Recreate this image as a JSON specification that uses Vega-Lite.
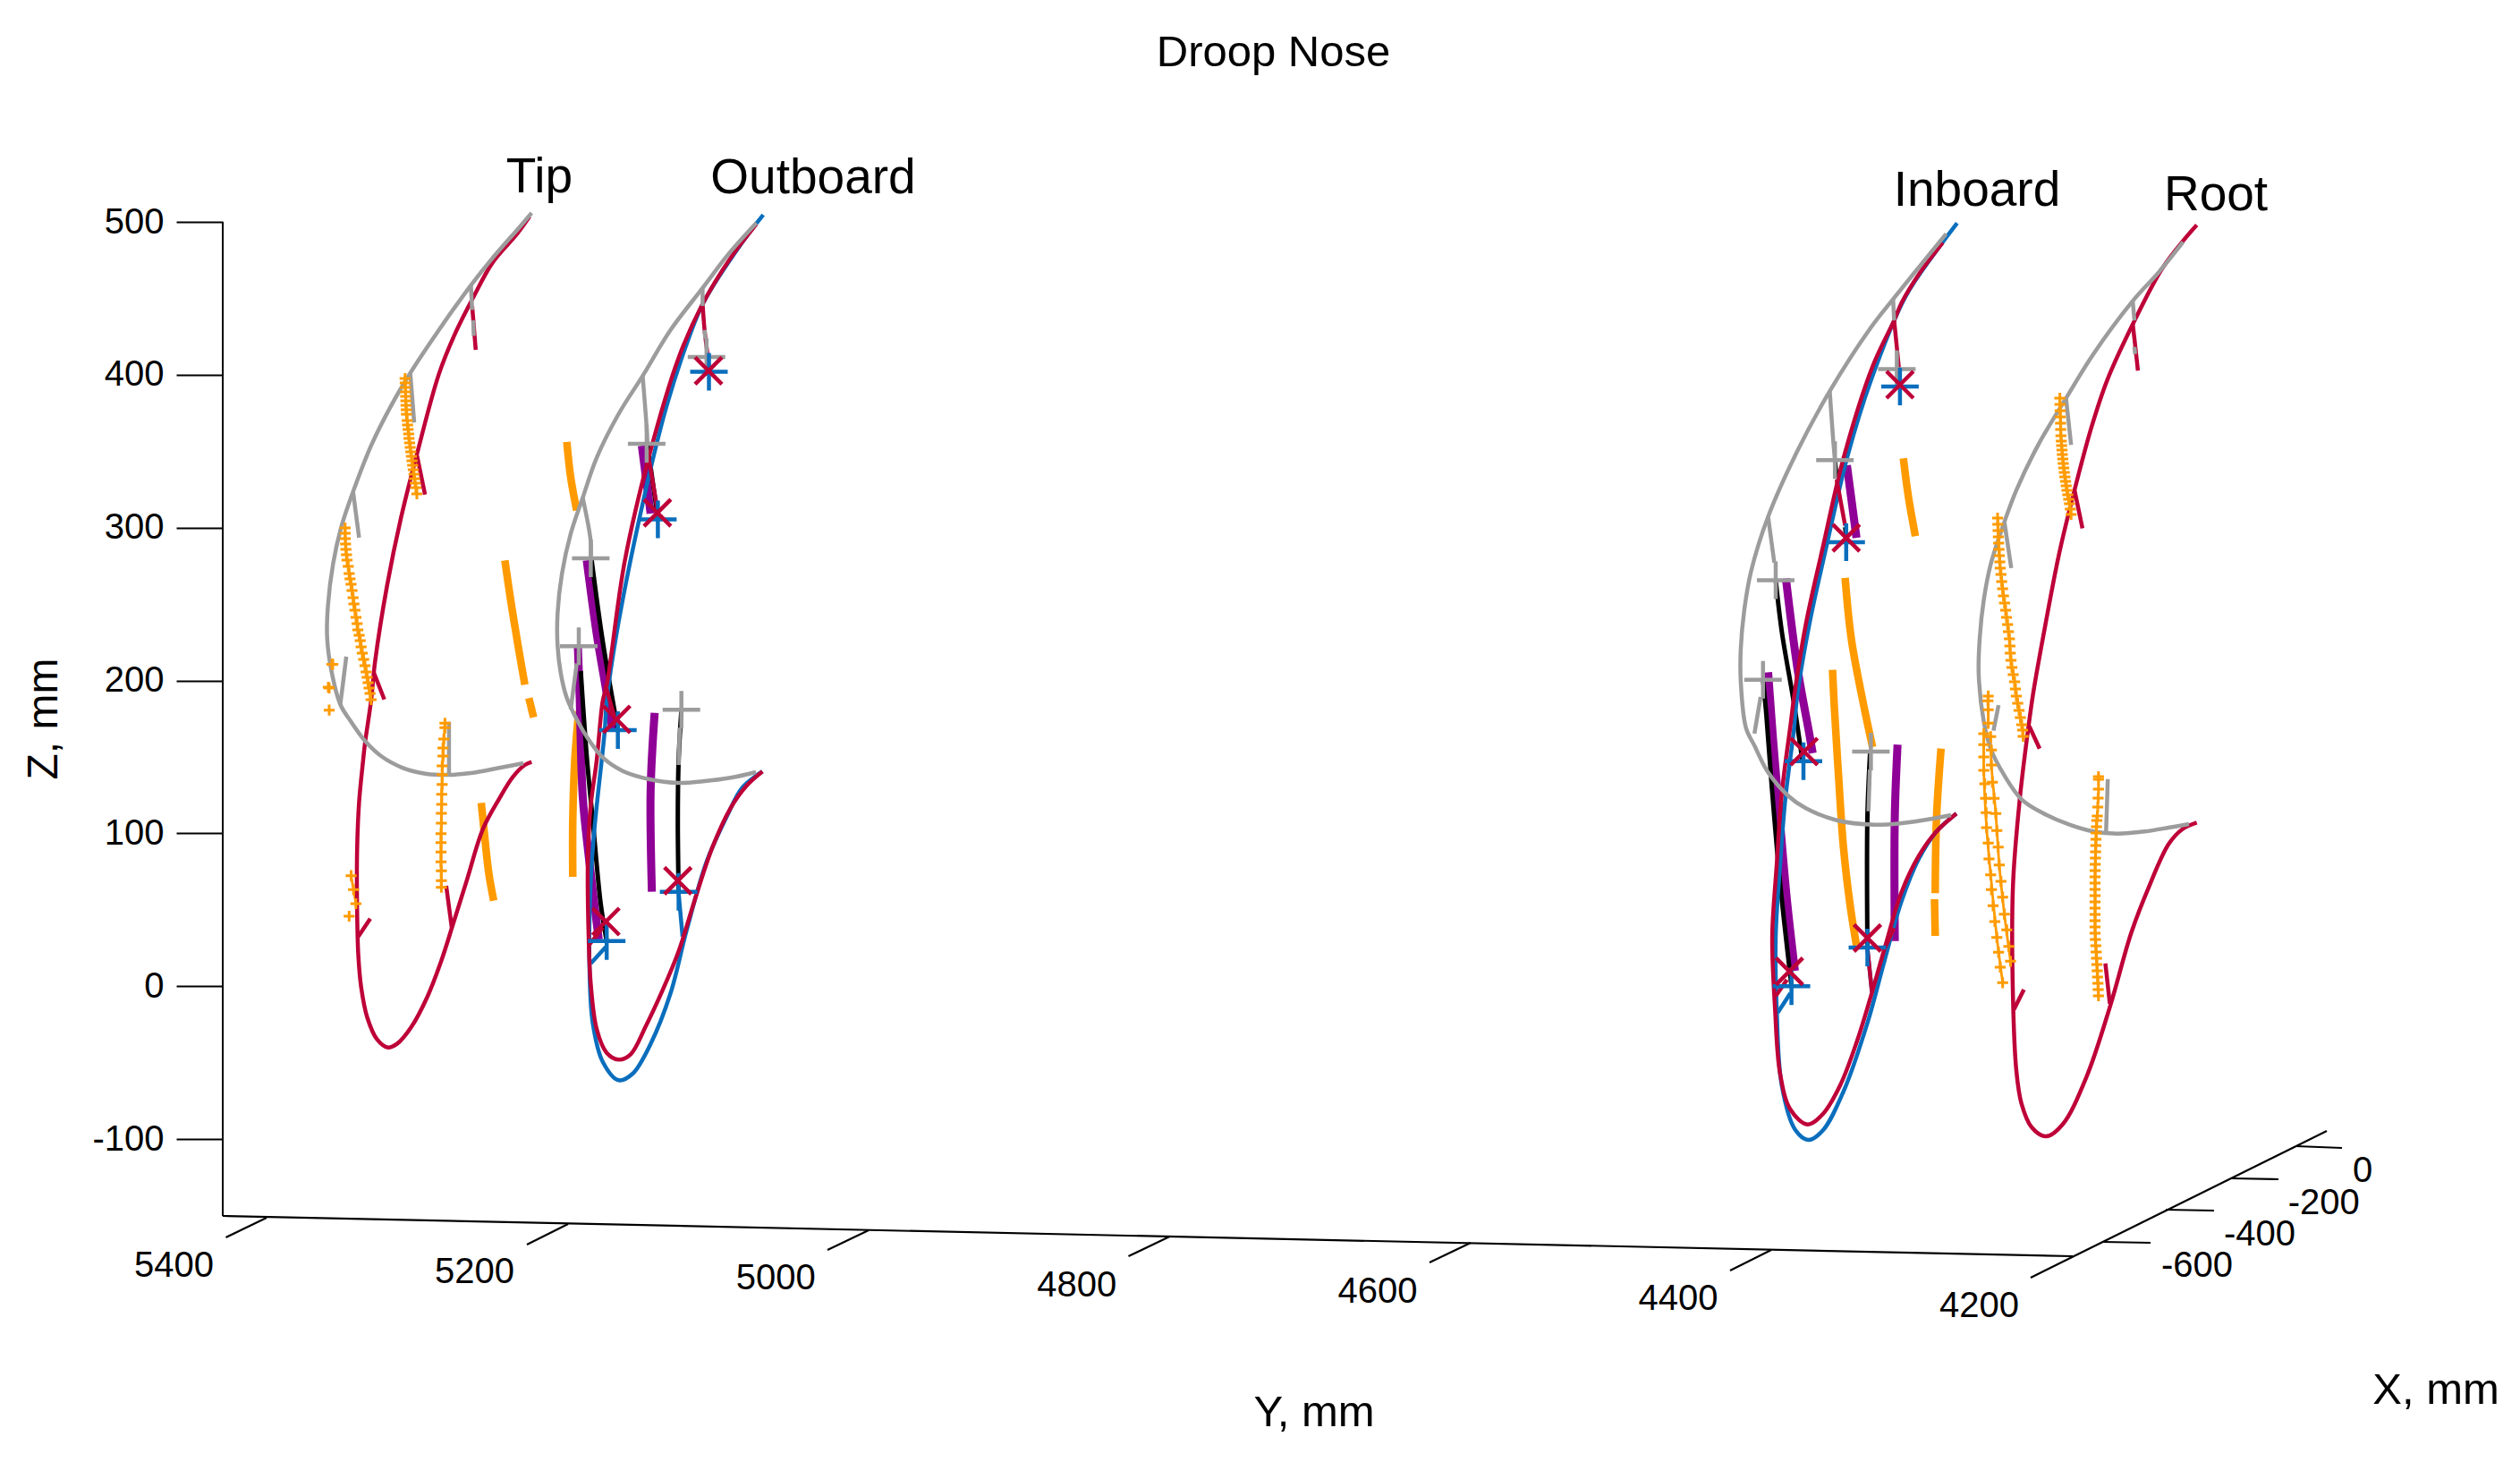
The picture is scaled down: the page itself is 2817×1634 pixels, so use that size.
{"$schema":"https://vega.github.io/schema/vega-lite/v6.json","width":2817,"height":1634,"padding":0,"autosize":"none","background":"white","view":{"stroke":null},
"title":{"text":"Droop Nose","font":"Liberation Sans","fontSize":49,"fontWeight":"normal","color":"black","anchor":"middle","baseline":"alphabetic","offset":0,"dx":15,"dy":122.5},
"datasets":{
"zaxis":[{"h":249,"z":500},{"h":249,"z":-150.3}],
"labels":[
{"kind":"name","label":"Tip","h":603,"v":215},{"kind":"name","label":"Outboard","h":909,"v":215.5},{"kind":"name","label":"Inboard","h":2210,"v":229.5},{"kind":"name","label":"Root","h":2477,"v":235},
{"kind":"title","label":"Y, mm","h":1469,"v":1594},{"kind":"title","label":"X, mm","h":2723,"v":1569},
{"kind":"tick","label":"5400","h":194.5,"v":1426.7},{"kind":"tick","label":"5200","h":530.6,"v":1434},{"kind":"tick","label":"5000","h":867.3,"v":1441},{"kind":"tick","label":"4800","h":1203.7,"v":1448.6},{"kind":"tick","label":"4600","h":1540,"v":1456},{"kind":"tick","label":"4400","h":1876,"v":1464},{"kind":"tick","label":"4200","h":2212.5,"v":1471.7},
{"kind":"tick","label":"0","h":2641,"v":1321},{"kind":"tick","label":"-200","h":2597.7,"v":1356.7},{"kind":"tick","label":"-400","h":2526,"v":1392},{"kind":"tick","label":"-600","h":2456,"v":1426.7}],
"markers":[
{"marker":"grey","h":789.8,"v":399.1},{"marker":"grey","h":722.9,"v":496},{"marker":"grey","h":660.4,"v":624.1},{"marker":"grey","h":647,"v":722.3},{"marker":"grey","h":761.7,"v":793.3},
{"marker":"grey","h":2120.4,"v":412.6},{"marker":"grey","h":2051.2,"v":514.2},{"marker":"grey","h":1985,"v":648.6},{"marker":"grey","h":1970.8,"v":759.7},{"marker":"grey","h":2091.4,"v":840},
{"marker":"blue","h":792.5,"v":415.6},{"marker":"blue","h":735.4,"v":580.4},{"marker":"blue","h":690.7,"v":816},{"marker":"blue","h":678.2,"v":1051.7},{"marker":"blue","h":758.6,"v":996.7},
{"marker":"blue","h":2123.9,"v":432},{"marker":"blue","h":2063.8,"v":605.9},{"marker":"blue","h":2016,"v":850.7},{"marker":"blue","h":2002.6,"v":1102.3},{"marker":"blue","h":2087.5,"v":1059},
{"marker":"crimson","h":792,"v":414.3},{"marker":"crimson","h":734.9,"v":573.2},{"marker":"crimson","h":689.4,"v":804},{"marker":"crimson","h":677.3,"v":1030},{"marker":"crimson","h":757.7,"v":984.3},
{"marker":"crimson","h":2123.9,"v":430},{"marker":"crimson","h":2063.8,"v":601.2},{"marker":"crimson","h":2016.7,"v":840},{"marker":"crimson","h":2000.3,"v":1085.7},{"marker":"crimson","h":2087.5,"v":1048.3},
{"marker":"orange","h":371,"v":742.4},{"marker":"orange","h":372,"v":742.4},{"marker":"orange","h":367,"v":768},{"marker":"orange","h":368,"v":769},{"marker":"orange","h":368,"v":793.7},
{"marker":"orange","h":497.4,"v":808.3},{"marker":"orange","h":497.4,"v":813.3},{"marker":"orange","h":496.1,"v":826},{"marker":"orange","h":495.2,"v":836},{"marker":"orange","h":495.2,"v":845},{"marker":"orange","h":494.3,"v":856},{"marker":"orange","h":494.3,"v":865.7},{"marker":"orange","h":494.3,"v":876.7},{"marker":"orange","h":493.8,"v":887.7},{"marker":"orange","h":493.8,"v":899},{"marker":"orange","h":493.4,"v":909},{"marker":"orange","h":493.4,"v":920},{"marker":"orange","h":493,"v":931.7},{"marker":"orange","h":493,"v":941.7},{"marker":"orange","h":493,"v":952.3},{"marker":"orange","h":493,"v":963.3},{"marker":"orange","h":493.4,"v":973.3},{"marker":"orange","h":493.4,"v":984.3},{"marker":"orange","h":493.4,"v":991.7},
{"marker":"orange","h":392.5,"v":978.7},{"marker":"orange","h":395.2,"v":994.3},{"marker":"orange","h":397.9,"v":1010},{"marker":"orange","h":390.3,"v":1024},
{"marker":"orange","h":452.8,"v":423},{"marker":"orange","h":453,"v":428},{"marker":"orange","h":453.2,"v":433},{"marker":"orange","h":453.3,"v":438},{"marker":"orange","h":453.5,"v":443},{"marker":"orange","h":453.7,"v":448},{"marker":"orange","h":453.9,"v":453},{"marker":"orange","h":454.1,"v":458},{"marker":"orange","h":454.4,"v":463},{"marker":"orange","h":455.2,"v":470},{"marker":"orange","h":455.6,"v":475},{"marker":"orange","h":456.2,"v":480},{"marker":"orange","h":456.8,"v":485},{"marker":"orange","h":457.2,"v":490},{"marker":"orange","h":457.9,"v":495},{"marker":"orange","h":458.6,"v":500},{"marker":"orange","h":459.2,"v":505},{"marker":"orange","h":459.9,"v":510},{"marker":"orange","h":460.6,"v":515},{"marker":"orange","h":461.3,"v":520},{"marker":"orange","h":462,"v":525},{"marker":"orange","h":462.8,"v":530},{"marker":"orange","h":463.4,"v":535},{"marker":"orange","h":464.1,"v":540},{"marker":"orange","h":464.9,"v":545},{"marker":"orange","h":466,"v":552},
{"marker":"orange","h":385.8,"v":590},{"marker":"orange","h":385.8,"v":596},{"marker":"orange","h":386,"v":602},{"marker":"orange","h":386.3,"v":608},{"marker":"orange","h":386.7,"v":614},{"marker":"orange","h":387.3,"v":620},{"marker":"orange","h":388,"v":626},{"marker":"orange","h":389.3,"v":633},{"marker":"orange","h":390.3,"v":641},{"marker":"orange","h":391.3,"v":647},{"marker":"orange","h":392.4,"v":653},{"marker":"orange","h":393.5,"v":660},{"marker":"orange","h":394.7,"v":668},{"marker":"orange","h":395.6,"v":675},{"marker":"orange","h":396.8,"v":682},{"marker":"orange","h":398,"v":690},{"marker":"orange","h":399.2,"v":697},{"marker":"orange","h":400,"v":704},{"marker":"orange","h":401.5,"v":710},{"marker":"orange","h":402.7,"v":716},{"marker":"orange","h":403.7,"v":723},{"marker":"orange","h":405,"v":730},{"marker":"orange","h":406.5,"v":737},{"marker":"orange","h":408,"v":744},{"marker":"orange","h":409.3,"v":751},{"marker":"orange","h":410.4,"v":757},{"marker":"orange","h":411.5,"v":763},{"marker":"orange","h":412.6,"v":769},{"marker":"orange","h":413.7,"v":775},{"marker":"orange","h":414.8,"v":782},
{"marker":"orange","h":2302.6,"v":445},{"marker":"orange","h":2302.8,"v":452},{"marker":"orange","h":2303,"v":459},{"marker":"orange","h":2303.2,"v":466},{"marker":"orange","h":2303.4,"v":473},{"marker":"orange","h":2303.6,"v":480},{"marker":"orange","h":2303.8,"v":487},{"marker":"orange","h":2304.2,"v":493},{"marker":"orange","h":2304.6,"v":498},{"marker":"orange","h":2305,"v":503},{"marker":"orange","h":2305.4,"v":508},{"marker":"orange","h":2305.9,"v":513},{"marker":"orange","h":2306.4,"v":518},{"marker":"orange","h":2307,"v":523},{"marker":"orange","h":2307.6,"v":528},{"marker":"orange","h":2308.3,"v":533},{"marker":"orange","h":2309,"v":538},{"marker":"orange","h":2309.8,"v":543},{"marker":"orange","h":2310.6,"v":548},{"marker":"orange","h":2311.5,"v":553},{"marker":"orange","h":2312.5,"v":558},{"marker":"orange","h":2313.4,"v":563},{"marker":"orange","h":2314.3,"v":569},{"marker":"orange","h":2315.2,"v":575},
{"marker":"orange","h":2233,"v":579},{"marker":"orange","h":2233.3,"v":586},{"marker":"orange","h":2233.6,"v":593},{"marker":"orange","h":2233.9,"v":600},{"marker":"orange","h":2234.2,"v":607},{"marker":"orange","h":2234.6,"v":614},{"marker":"orange","h":2235,"v":621},{"marker":"orange","h":2235.5,"v":628},{"marker":"orange","h":2236,"v":635},{"marker":"orange","h":2236.8,"v":642},{"marker":"orange","h":2237.6,"v":650},{"marker":"orange","h":2238.6,"v":658},{"marker":"orange","h":2239.6,"v":666},{"marker":"orange","h":2240.8,"v":674},{"marker":"orange","h":2242,"v":682},{"marker":"orange","h":2243,"v":690},{"marker":"orange","h":2244.2,"v":698},{"marker":"orange","h":2245.2,"v":706},{"marker":"orange","h":2246.3,"v":714},{"marker":"orange","h":2246.8,"v":722},{"marker":"orange","h":2247.2,"v":730},{"marker":"orange","h":2248,"v":738},{"marker":"orange","h":2249,"v":746},{"marker":"orange","h":2250.5,"v":754},{"marker":"orange","h":2252,"v":762},{"marker":"orange","h":2253,"v":770},{"marker":"orange","h":2254,"v":778},{"marker":"orange","h":2255.5,"v":786},{"marker":"orange","h":2257,"v":794},{"marker":"orange","h":2258.5,"v":802},{"marker":"orange","h":2260,"v":810},{"marker":"orange","h":2261,"v":816},{"marker":"orange","h":2261.6,"v":823},
{"marker":"orange","h":2222.6,"v":777.9},{"marker":"orange","h":2222.2,"v":783.3},{"marker":"orange","h":2222.6,"v":793.3},{"marker":"orange","h":2222.6,"v":808.3},{"marker":"orange","h":2217.6,"v":820},{"marker":"orange","h":2217.6,"v":832.3},{"marker":"orange","h":2217.6,"v":846},{"marker":"orange","h":2217.6,"v":861},{"marker":"orange","h":2218.7,"v":876},{"marker":"orange","h":2219.6,"v":892.3},{"marker":"orange","h":2220.3,"v":908.3},{"marker":"orange","h":2220.7,"v":925},{"marker":"orange","h":2222.6,"v":942.3},{"marker":"orange","h":2223.4,"v":960},{"marker":"orange","h":2225.3,"v":977.7},{"marker":"orange","h":2226.1,"v":994.3},{"marker":"orange","h":2228,"v":1012.3},{"marker":"orange","h":2229.9,"v":1030},{"marker":"orange","h":2232.2,"v":1047.7},{"marker":"orange","h":2234.1,"v":1064.3},{"marker":"orange","h":2236,"v":1081},{"marker":"orange","h":2238.7,"v":1098.3},
{"marker":"orange","h":2225.3,"v":823.3},{"marker":"orange","h":2226.1,"v":838.3},{"marker":"orange","h":2226.1,"v":855},{"marker":"orange","h":2227.2,"v":874.3},{"marker":"orange","h":2229.1,"v":892.3},{"marker":"orange","h":2231,"v":909.3},{"marker":"orange","h":2232.2,"v":928.3},{"marker":"orange","h":2233.7,"v":946.7},{"marker":"orange","h":2234.9,"v":966.7},{"marker":"orange","h":2236.8,"v":985},{"marker":"orange","h":2238.7,"v":1002.7},{"marker":"orange","h":2240.6,"v":1021.7},{"marker":"orange","h":2243.3,"v":1039.3},{"marker":"orange","h":2245.6,"v":1057.7},{"marker":"orange","h":2247.5,"v":1074.3},
{"marker":"orange","h":2345.8,"v":868},{"marker":"orange","h":2345.8,"v":871},{"marker":"orange","h":2345.8,"v":882},{"marker":"orange","h":2345.4,"v":892},{"marker":"orange","h":2345,"v":902},{"marker":"orange","h":2344.5,"v":912},{"marker":"orange","h":2343.9,"v":917},{"marker":"orange","h":2343.6,"v":924},{"marker":"orange","h":2343.3,"v":931},{"marker":"orange","h":2343,"v":938},{"marker":"orange","h":2342.8,"v":945},{"marker":"orange","h":2342.6,"v":952},{"marker":"orange","h":2342.4,"v":959},{"marker":"orange","h":2342.2,"v":966},{"marker":"orange","h":2342.1,"v":973},{"marker":"orange","h":2342,"v":980},{"marker":"orange","h":2342,"v":987},{"marker":"orange","h":2342,"v":994},{"marker":"orange","h":2342,"v":1001},{"marker":"orange","h":2342,"v":1008},{"marker":"orange","h":2342,"v":1015},{"marker":"orange","h":2342,"v":1022},{"marker":"orange","h":2342,"v":1029},{"marker":"orange","h":2342,"v":1036},{"marker":"orange","h":2342,"v":1043},{"marker":"orange","h":2342.4,"v":1050},{"marker":"orange","h":2342.8,"v":1057},{"marker":"orange","h":2343.2,"v":1064},{"marker":"orange","h":2343.6,"v":1071},{"marker":"orange","h":2344,"v":1078},{"marker":"orange","h":2344.4,"v":1085},{"marker":"orange","h":2344.8,"v":1092},{"marker":"orange","h":2345.2,"v":1099},{"marker":"orange","h":2345.5,"v":1106},{"marker":"orange","h":2345.8,"v":1113}],
"lines":[
{"path":"t1","kind":"thin","h":497.4,"v":808.3},{"path":"t1","kind":"thin","h":494.3,"v":865.7},{"path":"t1","kind":"thin","h":493.4,"v":920},{"path":"t1","kind":"thin","h":493,"v":963.3},{"path":"t1","kind":"thin","h":493.4,"v":991.7},
{"path":"t2","kind":"thin","h":392.5,"v":978.7},{"path":"t2","kind":"thin","h":395.2,"v":994.3},{"path":"t2","kind":"thin","h":397.9,"v":1010},
{"path":"t3","kind":"thin","h":2217.6,"v":820},{"path":"t3","kind":"thin","h":2217.6,"v":861},{"path":"t3","kind":"thin","h":2220.7,"v":925},{"path":"t3","kind":"thin","h":2225.3,"v":977.7},{"path":"t3","kind":"thin","h":2232.2,"v":1047.7},{"path":"t3","kind":"thin","h":2238.7,"v":1098.3},
{"path":"t4","kind":"thin","h":2225.3,"v":823.3},{"path":"t4","kind":"thin","h":2226.1,"v":855},{"path":"t4","kind":"thin","h":2231,"v":909.3},{"path":"t4","kind":"thin","h":2234.9,"v":966.7},{"path":"t4","kind":"thin","h":2240.6,"v":1021.7},{"path":"t4","kind":"thin","h":2247.5,"v":1074.3},
{"path":"t5","kind":"thin","h":2222.6,"v":777.9},{"path":"t5","kind":"thin","h":2222.6,"v":808.3},
{"path":"o1","kind":"orange","h":564.4,"v":626.3},{"path":"o1","kind":"orange","h":571.1,"v":672.3},{"path":"o1","kind":"orange","h":579.1,"v":721.4},{"path":"o1","kind":"orange","h":586.7,"v":765.2},
{"path":"o2","kind":"orange","h":591.2,"v":780.3},{"path":"o2","kind":"orange","h":596.5,"v":801.8},
{"path":"o3","kind":"orange","h":633.6,"v":493.8},{"path":"o3","kind":"orange","h":638,"v":533.9},{"path":"o3","kind":"orange","h":644.7,"v":570.5},
{"path":"o4","kind":"orange","h":538,"v":897.3},{"path":"o4","kind":"orange","h":542,"v":936.7},{"path":"o4","kind":"orange","h":546.5,"v":976.7},{"path":"o4","kind":"orange","h":551.9,"v":1006.7},
{"path":"o5","kind":"orange","h":647,"v":795},{"path":"o5","kind":"orange","h":642.5,"v":850},{"path":"o5","kind":"orange","h":640.3,"v":916.7},{"path":"o5","kind":"orange","h":640.3,"v":980},
{"path":"o6","kind":"orange","h":2127.7,"v":512.3},{"path":"o6","kind":"orange","h":2133.4,"v":555.7},{"path":"o6","kind":"orange","h":2141.1,"v":599.2},
{"path":"o7","kind":"orange","h":2062.6,"v":645.8},{"path":"o7","kind":"orange","h":2069.5,"v":713.8},{"path":"o7","kind":"orange","h":2083.7,"v":790},{"path":"o7","kind":"orange","h":2093.3,"v":835},
{"path":"o8","kind":"orange","h":2048.5,"v":748.6},{"path":"o8","kind":"orange","h":2050.5,"v":790},{"path":"o8","kind":"orange","h":2055,"v":863.3},{"path":"o8","kind":"orange","h":2060.7,"v":946.7},{"path":"o8","kind":"orange","h":2068.4,"v":1013.3},{"path":"o8","kind":"orange","h":2075.3,"v":1056.7},
{"path":"o9","kind":"orange","h":2169.8,"v":836.7},{"path":"o9","kind":"orange","h":2164.8,"v":913.3},{"path":"o9","kind":"orange","h":2163.3,"v":998.3},
{"path":"o10","kind":"orange","h":2162.5,"v":1005},{"path":"o10","kind":"orange","h":2163.3,"v":1046},
{"path":"p1","kind":"purple","h":717.5,"v":498.2},{"path":"p1","kind":"purple","h":727.3,"v":574},
{"path":"p2","kind":"purple","h":655.9,"v":626.3},{"path":"p2","kind":"purple","h":667,"v":708},{"path":"p2","kind":"purple","h":678.2,"v":775},{"path":"p2","kind":"purple","h":684.9,"v":817.4},
{"path":"p3","kind":"purple","h":646,"v":723.7},{"path":"p3","kind":"purple","h":647.9,"v":775},{"path":"p3","kind":"purple","h":651.4,"v":890},{"path":"p3","kind":"purple","h":658.1,"v":956.7},{"path":"p3","kind":"purple","h":669.3,"v":1050},
{"path":"p4","kind":"purple","h":731.8,"v":796.7},{"path":"p4","kind":"purple","h":727.3,"v":883.3},{"path":"p4","kind":"purple","h":728.7,"v":996.7},
{"path":"p5","kind":"purple","h":2064.6,"v":520.2},{"path":"p5","kind":"purple","h":2075.3,"v":601.2},
{"path":"p6","kind":"purple","h":1996.4,"v":646.6},{"path":"p6","kind":"purple","h":2009.1,"v":745.5},{"path":"p6","kind":"purple","h":2022.5,"v":820},{"path":"p6","kind":"purple","h":2026.3,"v":841.7},
{"path":"p7","kind":"purple","h":1976.5,"v":751.4},{"path":"p7","kind":"purple","h":1982.3,"v":830},{"path":"p7","kind":"purple","h":1989.9,"v":920},{"path":"p7","kind":"purple","h":1997.6,"v":1006.7},{"path":"p7","kind":"purple","h":2006.4,"v":1085},
{"path":"p8","kind":"purple","h":2121.2,"v":832.3},{"path":"p8","kind":"purple","h":2118.1,"v":913.3},{"path":"p8","kind":"purple","h":2118.1,"v":1051.7},
{"path":"b1","kind":"black","h":791.2,"v":399.1},{"path":"b1","kind":"black","h":792.5,"v":417.9},
{"path":"b2","kind":"black","h":723.8,"v":496},{"path":"b2","kind":"black","h":729.6,"v":538.4},{"path":"b2","kind":"black","h":735.4,"v":578.6},
{"path":"b3","kind":"black","h":661.3,"v":625.4},{"path":"b3","kind":"black","h":673.8,"v":717},{"path":"b3","kind":"black","h":690.7,"v":815.2},
{"path":"b4","kind":"black","h":649.2,"v":750},{"path":"b4","kind":"black","h":656,"v":846.7},{"path":"b4","kind":"black","h":662.6,"v":916.7},{"path":"b4","kind":"black","h":671.5,"v":1010},{"path":"b4","kind":"black","h":678.2,"v":1051.7},
{"path":"b5","kind":"black","h":761.7,"v":794},{"path":"b5","kind":"black","h":758.6,"v":850},{"path":"b5","kind":"black","h":757.7,"v":916.7},{"path":"b5","kind":"black","h":758.6,"v":996.7},
{"path":"b6","kind":"black","h":2122.7,"v":413.4},{"path":"b6","kind":"black","h":2123.9,"v":432},
{"path":"b7","kind":"black","h":2051.2,"v":514.2},{"path":"b7","kind":"black","h":2053.1,"v":534},
{"path":"b8","kind":"black","h":2062.6,"v":589.3},{"path":"b8","kind":"black","h":2064.6,"v":605.1},
{"path":"b9","kind":"black","h":1985,"v":648.6},{"path":"b9","kind":"black","h":1991.8,"v":706},{"path":"b9","kind":"black","h":2005.2,"v":785},{"path":"b9","kind":"black","h":2014.8,"v":850},
{"path":"b10","kind":"black","h":1970.8,"v":759.7},{"path":"b10","kind":"black","h":1974.6,"v":800},{"path":"b10","kind":"black","h":1980.4,"v":876.7},{"path":"b10","kind":"black","h":1989.9,"v":986.7},{"path":"b10","kind":"black","h":2002.6,"v":1101.7},
{"path":"b11","kind":"black","h":2090.6,"v":840},{"path":"b11","kind":"black","h":2087.5,"v":913.3},{"path":"b11","kind":"black","h":2087.5,"v":1058.3},
{"path":"blOut","kind":"blue","h":853.2,"v":240.2},{"path":"blOut","kind":"blue","h":830,"v":270.5},{"path":"blOut","kind":"blue","h":786.5,"v":338},{"path":"blOut","kind":"blue","h":770,"v":377.7},{"path":"blOut","kind":"blue","h":745.2,"v":453.6},{"path":"blOut","kind":"blue","h":722.9,"v":542.9},{"path":"blOut","kind":"blue","h":691.6,"v":694.6},{"path":"blOut","kind":"blue","h":678.2,"v":783.9},{"path":"blOut","kind":"blue","h":676,"v":816.7},{"path":"blOut","kind":"blue","h":664.8,"v":923.3},{"path":"blOut","kind":"blue","h":660.4,"v":983.3},{"path":"blOut","kind":"blue","h":659,"v":1083.3},{"path":"blOut","kind":"blue","h":662.6,"v":1143.3},{"path":"blOut","kind":"blue","h":673.8,"v":1186.7},{"path":"blOut","kind":"blue","h":691.6,"v":1207.3},{"path":"blOut","kind":"blue","h":707.2,"v":1200},{"path":"blOut","kind":"blue","h":727.3,"v":1166.7},{"path":"blOut","kind":"blue","h":749.6,"v":1110},{"path":"blOut","kind":"blue","h":767.5,"v":1040},{"path":"blOut","kind":"blue","h":789.8,"v":963.3},{"path":"blOut","kind":"blue","h":812.1,"v":913.3},{"path":"blOut","kind":"blue","h":830,"v":880},{"path":"blOut","kind":"blue","h":852.3,"v":862.3},
{"path":"blO1","kind":"blue","h":660.4,"v":1076.7},{"path":"blO1","kind":"blue","h":677.3,"v":1058.3},
{"path":"blO2","kind":"blue","h":758.6,"v":998.3},{"path":"blO2","kind":"blue","h":763,"v":1046.7},
{"path":"blIn","kind":"blue","h":2187.8,"v":249.4},{"path":"blIn","kind":"blue","h":2164.1,"v":281},{"path":"blIn","kind":"blue","h":2129.6,"v":332.4},{"path":"blIn","kind":"blue","h":2091.4,"v":425.3},{"path":"blIn","kind":"blue","h":2064.6,"v":512.3},{"path":"blIn","kind":"blue","h":2041.6,"v":611.1},{"path":"blIn","kind":"blue","h":2022.5,"v":698},{"path":"blIn","kind":"blue","h":2009.1,"v":777.1},{"path":"blIn","kind":"blue","h":2005.2,"v":816.7},{"path":"blIn","kind":"blue","h":1995.7,"v":893.3},{"path":"blIn","kind":"blue","h":1989.9,"v":966.7},{"path":"blIn","kind":"blue","h":1985,"v":1046.7},{"path":"blIn","kind":"blue","h":1986.1,"v":1126.7},{"path":"blIn","kind":"blue","h":1991.8,"v":1213.3},{"path":"blIn","kind":"blue","h":2007.2,"v":1263.3},{"path":"blIn","kind":"blue","h":2021.7,"v":1274},{"path":"blIn","kind":"blue","h":2037.8,"v":1263.3},{"path":"blIn","kind":"blue","h":2060.7,"v":1220},{"path":"blIn","kind":"blue","h":2087.5,"v":1143.3},{"path":"blIn","kind":"blue","h":2106.7,"v":1073.3},{"path":"blIn","kind":"blue","h":2125.8,"v":1006.7},{"path":"blIn","kind":"blue","h":2144.9,"v":960},{"path":"blIn","kind":"blue","h":2164.1,"v":930},{"path":"blIn","kind":"blue","h":2187,"v":909.3},
{"path":"blI1","kind":"blue","h":1987.3,"v":1131.7},{"path":"blI1","kind":"blue","h":2001.4,"v":1110},
{"path":"blI2","kind":"blue","h":2087.5,"v":1060},{"path":"blI2","kind":"blue","h":2092.5,"v":1108.3},
{"path":"cTip","kind":"crimson","h":592,"v":242},{"path":"cTip","kind":"crimson","h":577.8,"v":261.6},{"path":"cTip","kind":"crimson","h":551,"v":292.9},{"path":"cTip","kind":"crimson","h":528.7,"v":333},{"path":"cTip","kind":"crimson","h":508.6,"v":373.2},{"path":"cTip","kind":"crimson","h":490.7,"v":417.9},{"path":"cTip","kind":"crimson","h":466.2,"v":507.1},{"path":"cTip","kind":"crimson","h":448.3,"v":578.6},{"path":"cTip","kind":"crimson","h":432.7,"v":654.5},{"path":"cTip","kind":"crimson","h":419.3,"v":739.3},{"path":"cTip","kind":"crimson","h":414.8,"v":783.3},{"path":"cTip","kind":"crimson","h":408.1,"v":830},{"path":"cTip","kind":"crimson","h":405.9,"v":850},{"path":"cTip","kind":"crimson","h":401.4,"v":896.7},{"path":"cTip","kind":"crimson","h":399.2,"v":950},{"path":"cTip","kind":"crimson","h":399.2,"v":1016.7},{"path":"cTip","kind":"crimson","h":400.5,"v":1066.7},{"path":"cTip","kind":"crimson","h":403.7,"v":1103.3},{"path":"cTip","kind":"crimson","h":410.4,"v":1136.7},{"path":"cTip","kind":"crimson","h":421.5,"v":1161.7},{"path":"cTip","kind":"crimson","h":433.6,"v":1170.7},{"path":"cTip","kind":"crimson","h":443.8,"v":1166.7},{"path":"cTip","kind":"crimson","h":459.5,"v":1148.3},{"path":"cTip","kind":"crimson","h":477.3,"v":1115},{"path":"cTip","kind":"crimson","h":492.9,"v":1075},{"path":"cTip","kind":"crimson","h":506.3,"v":1033.3},{"path":"cTip","kind":"crimson","h":522,"v":983.3},{"path":"cTip","kind":"crimson","h":539.8,"v":926.7},{"path":"cTip","kind":"crimson","h":557.7,"v":893.3},{"path":"cTip","kind":"crimson","h":573.3,"v":868.3},{"path":"cTip","kind":"crimson","h":586.7,"v":855},{"path":"cTip","kind":"crimson","h":594.3,"v":851.7},
{"path":"cT1","kind":"crimson","h":527.8,"v":342},{"path":"cT1","kind":"crimson","h":531.8,"v":391},
{"path":"cT2","kind":"crimson","h":466.2,"v":509.4},{"path":"cT2","kind":"crimson","h":475.1,"v":552.7},
{"path":"cT3","kind":"crimson","h":417.9,"v":751.8},{"path":"cT3","kind":"crimson","h":429.6,"v":781.7},
{"path":"cT4","kind":"crimson","h":505,"v":1036.7},{"path":"cT4","kind":"crimson","h":498.8,"v":990},
{"path":"cT5","kind":"crimson","h":400.5,"v":1046.7},{"path":"cT5","kind":"crimson","h":413.9,"v":1026.7},
{"path":"cOut","kind":"crimson","h":845.6,"v":250.4},{"path":"cOut","kind":"crimson","h":816.6,"v":288.4},{"path":"cOut","kind":"crimson","h":785.4,"v":339.7},{"path":"cOut","kind":"crimson","h":758.6,"v":400},{"path":"cOut","kind":"crimson","h":725.1,"v":511.6},{"path":"cOut","kind":"crimson","h":698.3,"v":627.7},{"path":"cOut","kind":"crimson","h":678.2,"v":766},{"path":"cOut","kind":"crimson","h":673.8,"v":783.3},{"path":"cOut","kind":"crimson","h":667,"v":850},{"path":"cOut","kind":"crimson","h":660.4,"v":900},{"path":"cOut","kind":"crimson","h":657.2,"v":956.7},{"path":"cOut","kind":"crimson","h":658.1,"v":1050},{"path":"cOut","kind":"crimson","h":660.4,"v":1100},{"path":"cOut","kind":"crimson","h":667,"v":1150},{"path":"cOut","kind":"crimson","h":678.2,"v":1176.7},{"path":"cOut","kind":"crimson","h":691.6,"v":1184.3},{"path":"cOut","kind":"crimson","h":705,"v":1178.3},{"path":"cOut","kind":"crimson","h":722,"v":1146.7},{"path":"cOut","kind":"crimson","h":740.7,"v":1106.7},{"path":"cOut","kind":"crimson","h":758.6,"v":1063.3},{"path":"cOut","kind":"crimson","h":776.4,"v":1006.7},{"path":"cOut","kind":"crimson","h":796.5,"v":946.7},{"path":"cOut","kind":"crimson","h":816.6,"v":903.3},{"path":"cOut","kind":"crimson","h":834.5,"v":878.3},{"path":"cOut","kind":"crimson","h":852.3,"v":862.3},
{"path":"cO1","kind":"crimson","h":785.4,"v":339.7},{"path":"cO1","kind":"crimson","h":787.6,"v":368.8},{"path":"cO1","kind":"crimson","h":791.2,"v":397.8},
{"path":"cO2","kind":"crimson","h":725.1,"v":511.6},{"path":"cO2","kind":"crimson","h":735,"v":570},
{"path":"cO3","kind":"crimson","h":676.9,"v":766},{"path":"cO3","kind":"crimson","h":689.4,"v":810.7},
{"path":"cO4","kind":"crimson","h":658.1,"v":1056.7},{"path":"cO4","kind":"crimson","h":673.8,"v":1036.7},
{"path":"cIn","kind":"crimson","h":2171.7,"v":271.1},{"path":"cIn","kind":"crimson","h":2144.9,"v":306.7},{"path":"cIn","kind":"crimson","h":2125.8,"v":338.3},{"path":"cIn","kind":"crimson","h":2117.4,"v":358.1},{"path":"cIn","kind":"crimson","h":2093.3,"v":409.5},{"path":"cIn","kind":"crimson","h":2060.7,"v":512.3},{"path":"cIn","kind":"crimson","h":2037.8,"v":611.1},{"path":"cIn","kind":"crimson","h":2018.6,"v":698},{"path":"cIn","kind":"crimson","h":2005.2,"v":781},{"path":"cIn","kind":"crimson","h":2002,"v":806.7},{"path":"cIn","kind":"crimson","h":1991.8,"v":886.7},{"path":"cIn","kind":"crimson","h":1986.1,"v":966.7},{"path":"cIn","kind":"crimson","h":1981.1,"v":1046.7},{"path":"cIn","kind":"crimson","h":1984.2,"v":1126.7},{"path":"cIn","kind":"crimson","h":1989.9,"v":1200},{"path":"cIn","kind":"crimson","h":2001.4,"v":1240},{"path":"cIn","kind":"crimson","h":2020.6,"v":1256.7},{"path":"cIn","kind":"crimson","h":2037.8,"v":1245},{"path":"cIn","kind":"crimson","h":2056.9,"v":1213.3},{"path":"cIn","kind":"crimson","h":2076,"v":1163.3},{"path":"cIn","kind":"crimson","h":2091.4,"v":1113.3},{"path":"cIn","kind":"crimson","h":2106.7,"v":1060},{"path":"cIn","kind":"crimson","h":2125.8,"v":996.7},{"path":"cIn","kind":"crimson","h":2144.9,"v":956.7},{"path":"cIn","kind":"crimson","h":2164.1,"v":930},{"path":"cIn","kind":"crimson","h":2187,"v":909.3},
{"path":"cI1","kind":"crimson","h":2117.4,"v":358.1},{"path":"cI1","kind":"crimson","h":2122.7,"v":411.5},
{"path":"cI2","kind":"crimson","h":2053.1,"v":536},{"path":"cI2","kind":"crimson","h":2062.6,"v":587.4},
{"path":"cI3","kind":"crimson","h":1985,"v":1113.3},{"path":"cI3","kind":"crimson","h":1997.6,"v":1095},
{"path":"cI4","kind":"crimson","h":2087.5,"v":1060},{"path":"cI4","kind":"crimson","h":2092.5,"v":1108.3},
{"path":"cI5","kind":"crimson","h":2117.4,"v":1037.3},{"path":"cI5","kind":"crimson","h":2106.7,"v":1060},
{"path":"cRoot","kind":"crimson","h":2455.7,"v":251.4},{"path":"cRoot","kind":"crimson","h":2440.4,"v":269.2},{"path":"cRoot","kind":"crimson","h":2416.6,"v":300.8},{"path":"cRoot","kind":"crimson","h":2385.3,"v":360.1},{"path":"cRoot","kind":"crimson","h":2355.4,"v":425.3},{"path":"cRoot","kind":"crimson","h":2338.2,"v":476.7},{"path":"cRoot","kind":"crimson","h":2319,"v":547.8},{"path":"cRoot","kind":"crimson","h":2301.8,"v":619},{"path":"cRoot","kind":"crimson","h":2286.5,"v":698},{"path":"cRoot","kind":"crimson","h":2273.1,"v":773.1},{"path":"cRoot","kind":"crimson","h":2267.4,"v":813.3},{"path":"cRoot","kind":"crimson","h":2257.8,"v":893.3},{"path":"cRoot","kind":"crimson","h":2250.2,"v":990},{"path":"cRoot","kind":"crimson","h":2250.2,"v":1113.3},{"path":"cRoot","kind":"crimson","h":2254,"v":1196.7},{"path":"cRoot","kind":"crimson","h":2259.7,"v":1233.3},{"path":"cRoot","kind":"crimson","h":2271.2,"v":1260},{"path":"cRoot","kind":"crimson","h":2287.3,"v":1270},{"path":"cRoot","kind":"crimson","h":2305.7,"v":1256.7},{"path":"cRoot","kind":"crimson","h":2332.5,"v":1203.3},{"path":"cRoot","kind":"crimson","h":2359.2,"v":1123.3},{"path":"cRoot","kind":"crimson","h":2382.2,"v":1043.3},{"path":"cRoot","kind":"crimson","h":2401.3,"v":993.3},{"path":"cRoot","kind":"crimson","h":2424.3,"v":943.3},{"path":"cRoot","kind":"crimson","h":2439.6,"v":926.7},{"path":"cRoot","kind":"crimson","h":2455.7,"v":919.3},
{"path":"cR1","kind":"crimson","h":2384.1,"v":362.1},{"path":"cR1","kind":"crimson","h":2386.8,"v":385.8},{"path":"cR1","kind":"crimson","h":2389.9,"v":414.2},
{"path":"cR2","kind":"crimson","h":2319,"v":547.8},{"path":"cR2","kind":"crimson","h":2327.9,"v":590.5},
{"path":"cR3","kind":"crimson","h":2268.5,"v":811.7},{"path":"cR3","kind":"crimson","h":2280,"v":836.7},
{"path":"cR4","kind":"crimson","h":2358.5,"v":1121.7},{"path":"cR4","kind":"crimson","h":2353.5,"v":1076.7},
{"path":"cR5","kind":"crimson","h":2251.3,"v":1128.3},{"path":"cR5","kind":"crimson","h":2262.4,"v":1106},
{"path":"gTip","kind":"grey","h":594.3,"v":238},{"path":"gTip","kind":"grey","h":581.8,"v":252.7},{"path":"gTip","kind":"grey","h":548.8,"v":290.6},{"path":"gTip","kind":"grey","h":526.4,"v":318.8},{"path":"gTip","kind":"grey","h":490.7,"v":368.8},{"path":"gTip","kind":"grey","h":458.6,"v":417},{"path":"gTip","kind":"grey","h":437.1,"v":453.6},{"path":"gTip","kind":"grey","h":414.8,"v":498.2},{"path":"gTip","kind":"grey","h":394.7,"v":549.6},{"path":"gTip","kind":"grey","h":381.3,"v":589.7},{"path":"gTip","kind":"grey","h":372.4,"v":629.9},{"path":"gTip","kind":"grey","h":366.6,"v":676.8},{"path":"gTip","kind":"grey","h":365.7,"v":712.5},{"path":"gTip","kind":"grey","h":370.2,"v":748.2},{"path":"gTip","kind":"grey","h":380.5,"v":787.5},{"path":"gTip","kind":"grey","h":392.5,"v":806.7},{"path":"gTip","kind":"grey","h":408,"v":828},{"path":"gTip","kind":"grey","h":426,"v":845},{"path":"gTip","kind":"grey","h":450.5,"v":858.3},{"path":"gTip","kind":"grey","h":477.3,"v":865},{"path":"gTip","kind":"grey","h":501.9,"v":866},{"path":"gTip","kind":"grey","h":526.4,"v":864},{"path":"gTip","kind":"grey","h":557.7,"v":858.3},{"path":"gTip","kind":"grey","h":585,"v":853},
{"path":"gT1","kind":"grey","h":526.4,"v":318.8},{"path":"gT1","kind":"grey","h":527.8,"v":346.4},
{"path":"gT1b","kind":"grey","h":529,"v":358},{"path":"gT1b","kind":"grey","h":529.6,"v":375.4},
{"path":"gT2","kind":"grey","h":458.6,"v":417},{"path":"gT2","kind":"grey","h":463,"v":472.3},
{"path":"gT3","kind":"grey","h":394.7,"v":549.6},{"path":"gT3","kind":"grey","h":401.4,"v":600.9},
{"path":"gT4","kind":"grey","h":380.4,"v":787.5},{"path":"gT4","kind":"grey","h":387.1,"v":733.9},
{"path":"gT5","kind":"grey","h":501.9,"v":865},{"path":"gT5","kind":"grey","h":501.9,"v":806.7},
{"path":"gOut","kind":"grey","h":845.6,"v":249.1},{"path":"gOut","kind":"grey","h":814.4,"v":283.9},{"path":"gOut","kind":"grey","h":785.4,"v":321.9},{"path":"gOut","kind":"grey","h":749.6,"v":368.8},{"path":"gOut","kind":"grey","h":718.4,"v":420.1},{"path":"gOut","kind":"grey","h":691.6,"v":462.5},{"path":"gOut","kind":"grey","h":667,"v":511.6},{"path":"gOut","kind":"grey","h":651.4,"v":556.3},{"path":"gOut","kind":"grey","h":638,"v":596.4},{"path":"gOut","kind":"grey","h":628.2,"v":641.1},{"path":"gOut","kind":"grey","h":623.3,"v":685.7},{"path":"gOut","kind":"grey","h":623.3,"v":721.4},{"path":"gOut","kind":"grey","h":626.9,"v":752.7},{"path":"gOut","kind":"grey","h":633.6,"v":780},{"path":"gOut","kind":"grey","h":647,"v":808.3},{"path":"gOut","kind":"grey","h":658.1,"v":826.7},{"path":"gOut","kind":"grey","h":673.8,"v":846.7},{"path":"gOut","kind":"grey","h":696.1,"v":861.7},{"path":"gOut","kind":"grey","h":725.1,"v":870.7},{"path":"gOut","kind":"grey","h":758.6,"v":875},{"path":"gOut","kind":"grey","h":785.4,"v":873.3},{"path":"gOut","kind":"grey","h":816.6,"v":869.3},{"path":"gOut","kind":"grey","h":845,"v":863},
{"path":"gO1","kind":"grey","h":785.4,"v":321.9},{"path":"gO1","kind":"grey","h":785.4,"v":342},
{"path":"gO1b","kind":"grey","h":787.6,"v":368.8},{"path":"gO1b","kind":"grey","h":788.5,"v":378.6},
{"path":"gO2","kind":"grey","h":718.4,"v":420.1},{"path":"gO2","kind":"grey","h":722.9,"v":478.1},{"path":"gO2","kind":"grey","h":723.8,"v":496},
{"path":"gO3","kind":"grey","h":651.4,"v":556.3},{"path":"gO3","kind":"grey","h":660.4,"v":605.4},{"path":"gO3","kind":"grey","h":660.4,"v":623.2},
{"path":"gO4","kind":"grey","h":638,"v":792.9},{"path":"gO4","kind":"grey","h":644.7,"v":741.5},
{"path":"gO5","kind":"grey","h":759.9,"v":813.3},{"path":"gO5","kind":"grey","h":758.6,"v":855},
{"path":"gIn","kind":"grey","h":2175.5,"v":261.3},{"path":"gIn","kind":"grey","h":2144.9,"v":298.8},{"path":"gIn","kind":"grey","h":2116.2,"v":334.4},{"path":"gIn","kind":"grey","h":2091.4,"v":366},{"path":"gIn","kind":"grey","h":2045.4,"v":437.2},{"path":"gIn","kind":"grey","h":2009.1,"v":504.3},{"path":"gIn","kind":"grey","h":1976.5,"v":577.5},{"path":"gIn","kind":"grey","h":1957.4,"v":638.7},{"path":"gIn","kind":"grey","h":1949.8,"v":682.2},{"path":"gIn","kind":"grey","h":1945.9,"v":725.7},{"path":"gIn","kind":"grey","h":1945.9,"v":761.3},{"path":"gIn","kind":"grey","h":1951.7,"v":813.3},{"path":"gIn","kind":"grey","h":1961.2,"v":833.3},{"path":"gIn","kind":"grey","h":1976.5,"v":863.3},{"path":"gIn","kind":"grey","h":1999.5,"v":890},{"path":"gIn","kind":"grey","h":2018.6,"v":903.3},{"path":"gIn","kind":"grey","h":2053.1,"v":916.7},{"path":"gIn","kind":"grey","h":2095.2,"v":921.7},{"path":"gIn","kind":"grey","h":2125.8,"v":920},{"path":"gIn","kind":"grey","h":2160.2,"v":915},{"path":"gIn","kind":"grey","h":2181,"v":911},
{"path":"gI1","kind":"grey","h":2116.2,"v":334.4},{"path":"gI1","kind":"grey","h":2117.4,"v":358.1},
{"path":"gI2","kind":"grey","h":2045.4,"v":437.2},{"path":"gI2","kind":"grey","h":2049.3,"v":492.5},{"path":"gI2","kind":"grey","h":2051.2,"v":514.2},
{"path":"gI3","kind":"grey","h":1976.5,"v":577.5},{"path":"gI3","kind":"grey","h":1983.4,"v":628.8},
{"path":"gI4","kind":"grey","h":1961.2,"v":819.8},{"path":"gI4","kind":"grey","h":1968.1,"v":779},
{"path":"gI5","kind":"grey","h":2090.2,"v":860},{"path":"gI5","kind":"grey","h":2088.7,"v":906.7},
{"path":"gRoot","kind":"grey","h":2440.4,"v":270.4},{"path":"gRoot","kind":"grey","h":2412.8,"v":304.7},{"path":"gRoot","kind":"grey","h":2384.1,"v":336.4},{"path":"gRoot","kind":"grey","h":2340.1,"v":395.7},{"path":"gRoot","kind":"grey","h":2309.5,"v":445.1},{"path":"gRoot","kind":"grey","h":2278.9,"v":496.4},{"path":"gRoot","kind":"grey","h":2254,"v":547.8},{"path":"gRoot","kind":"grey","h":2240.6,"v":583.4},{"path":"gRoot","kind":"grey","h":2225.3,"v":630.8},{"path":"gRoot","kind":"grey","h":2217.6,"v":670.4},{"path":"gRoot","kind":"grey","h":2213,"v":713.8},{"path":"gRoot","kind":"grey","h":2211.9,"v":753.4},{"path":"gRoot","kind":"grey","h":2217.6,"v":806.7},{"path":"gRoot","kind":"grey","h":2225.3,"v":836.7},{"path":"gRoot","kind":"grey","h":2240.6,"v":866.7},{"path":"gRoot","kind":"grey","h":2259.7,"v":893.3},{"path":"gRoot","kind":"grey","h":2282.7,"v":908.3},{"path":"gRoot","kind":"grey","h":2313.3,"v":921.7},{"path":"gRoot","kind":"grey","h":2340.1,"v":929.3},{"path":"gRoot","kind":"grey","h":2366.9,"v":931.7},{"path":"gRoot","kind":"grey","h":2397.5,"v":929.3},{"path":"gRoot","kind":"grey","h":2424.3,"v":925},{"path":"gRoot","kind":"grey","h":2447,"v":921},
{"path":"gR1","kind":"grey","h":2384.1,"v":336.4},{"path":"gR1","kind":"grey","h":2386,"v":358.1},
{"path":"gR1b","kind":"grey","h":2386,"v":387.7},{"path":"gR1b","kind":"grey","h":2386.8,"v":395.7},
{"path":"gR2","kind":"grey","h":2309.5,"v":445.1},{"path":"gR2","kind":"grey","h":2315.2,"v":497.2},
{"path":"gR3","kind":"grey","h":2240.6,"v":583.4},{"path":"gR3","kind":"grey","h":2248.3,"v":634.8},
{"path":"gR4","kind":"grey","h":2228.4,"v":816.6},{"path":"gR4","kind":"grey","h":2234.1,"v":788.1},
{"path":"gR5","kind":"grey","h":2356.2,"v":870.7},{"path":"gR5","kind":"grey","h":2354.3,"v":930},
{"path":"ay","kind":"axis","h":249,"v":1359},{"path":"ay","kind":"axis","h":2317,"v":1404},
{"path":"ax","kind":"axis","h":2270,"v":1428},{"path":"ax","kind":"axis","h":2601,"v":1264},
{"path":"y5400","kind":"axis","h":298,"v":1361},{"path":"y5400","kind":"axis","h":252.5,"v":1383},
{"path":"y5200","kind":"axis","h":635,"v":1368},{"path":"y5200","kind":"axis","h":589,"v":1391},
{"path":"y5000","kind":"axis","h":971,"v":1375},{"path":"y5000","kind":"axis","h":925,"v":1397},
{"path":"y4800","kind":"axis","h":1307.5,"v":1382},{"path":"y4800","kind":"axis","h":1261.5,"v":1404},
{"path":"y4600","kind":"axis","h":1644,"v":1389},{"path":"y4600","kind":"axis","h":1598,"v":1411},
{"path":"y4400","kind":"axis","h":1980,"v":1397},{"path":"y4400","kind":"axis","h":1934,"v":1420},
{"path":"x0","kind":"axis","h":2566.5,"v":1281},{"path":"x0","kind":"axis","h":2618,"v":1283},
{"path":"x200","kind":"axis","h":2495,"v":1317},{"path":"x200","kind":"axis","h":2547,"v":1318},
{"path":"x400","kind":"axis","h":2421,"v":1352},{"path":"x400","kind":"axis","h":2475,"v":1353},
{"path":"x600","kind":"axis","h":2351,"v":1388},{"path":"x600","kind":"axis","h":2404,"v":1389}]
},
"encoding":{"x":{"field":"h","type":"quantitative","axis":null,"scale":{"domain":[0,2817],"nice":false,"zero":false}}},
"layer":[
{"data":{"name":"zaxis"},"mark":{"type":"line","color":"black","strokeWidth":2},
"encoding":{"order":{"value":null},"y":{"field":"z","type":"quantitative","scale":{"domain":[-311.3,645.2],"nice":false,"zero":false},
"axis":{"orient":"left","offset":-249,"values":[-100,0,100,200,300,400,500],"labelExpr":"''+datum.value","domain":false,"grid":false,"ticks":true,"tickSize":52,"tickWidth":2,"tickColor":"black","labelFont":"Liberation Sans","labelFontSize":40,"labelColor":"black","labelPadding":14,"title":"Z, mm","titleFont":"Liberation Sans","titleFontSize":48,"titleFontWeight":"normal","titleColor":"black","titleAngle":-90,"titleAlign":"center","titleBaseline":"alphabetic","titleX":-186,"titleY":803}}}},
{"data":{"name":"lines"},"mark":{"type":"line","interpolate":"catmull-rom","strokeJoin":"round"},
"encoding":{"order":{"value":null},"y":{"field":"v","type":"quantitative","axis":null,"scale":{"domain":[1634,0],"nice":false,"zero":false}},"detail":{"field":"path"},
"color":{"field":"kind","type":"nominal","legend":null,"scale":{"domain":["thin","orange","purple","black","blue","crimson","grey","axis"],"range":["#FF9B00","#FF9B00","#8F0096","#000000","#0A6EBD","#BE0038","#9C9C9C","#000000"]}},
"strokeWidth":{"field":"kind","type":"nominal","legend":null,"scale":{"type":"ordinal","domain":["thin","orange","purple","black","blue","crimson","grey","axis"],"range":[2.8,8.5,9,5,4.5,4.5,4.5,2.2]}}}},
{"data":{"name":"markers"},"transform":[{"filter":"datum.marker==='orange'"}],"mark":{"type":"point","shape":"M-1,0L1,0M0,-1L0,1","filled":false,"color":"#FF9B00","size":150,"strokeWidth":3,"opacity":1},"encoding":{"y":{"field":"v","type":"quantitative","axis":null,"scale":{"domain":[1634,0],"nice":false,"zero":false}}}},
{"data":{"name":"markers"},"transform":[{"filter":"datum.marker==='grey'"}],"mark":{"type":"point","shape":"M-1,0L1,0M0,-1L0,1","filled":false,"color":"#9C9C9C","size":1760,"strokeWidth":4.5,"opacity":1},"encoding":{"y":{"field":"v","type":"quantitative","axis":null,"scale":{"domain":[1634,0],"nice":false,"zero":false}}}},
{"data":{"name":"markers"},"transform":[{"filter":"datum.marker==='blue'"}],"mark":{"type":"point","shape":"M-1,0L1,0M0,-1L0,1","filled":false,"color":"#0A6EBD","size":1760,"strokeWidth":4.5,"opacity":1},"encoding":{"y":{"field":"v","type":"quantitative","axis":null,"scale":{"domain":[1634,0],"nice":false,"zero":false}}}},
{"data":{"name":"markers"},"transform":[{"filter":"datum.marker==='crimson'"}],"mark":{"type":"point","shape":"M-1,-1L1,1M-1,1L1,-1","filled":false,"color":"#BE0038","size":900,"strokeWidth":4.5,"opacity":1},"encoding":{"y":{"field":"v","type":"quantitative","axis":null,"scale":{"domain":[1634,0],"nice":false,"zero":false}}}},
{"data":{"name":"labels"},"transform":[{"filter":"datum.kind==='tick'"}],"mark":{"type":"text","font":"Liberation Sans","fontSize":40,"align":"center","baseline":"alphabetic","color":"black"},"encoding":{"text":{"field":"label"},"y":{"field":"v","type":"quantitative","axis":null,"scale":{"domain":[1634,0],"nice":false,"zero":false}}}},
{"data":{"name":"labels"},"transform":[{"filter":"datum.kind==='title'"}],"mark":{"type":"text","font":"Liberation Sans","fontSize":49,"align":"center","baseline":"alphabetic","color":"black"},"encoding":{"text":{"field":"label"},"y":{"field":"v","type":"quantitative","axis":null,"scale":{"domain":[1634,0],"nice":false,"zero":false}}}},
{"data":{"name":"labels"},"transform":[{"filter":"datum.kind==='name'"}],"mark":{"type":"text","font":"Liberation Sans","fontSize":55,"align":"center","baseline":"alphabetic","color":"black"},"encoding":{"text":{"field":"label"},"y":{"field":"v","type":"quantitative","axis":null,"scale":{"domain":[1634,0],"nice":false,"zero":false}}}}
],
"resolve":{"scale":{"y":"independent"}}}
